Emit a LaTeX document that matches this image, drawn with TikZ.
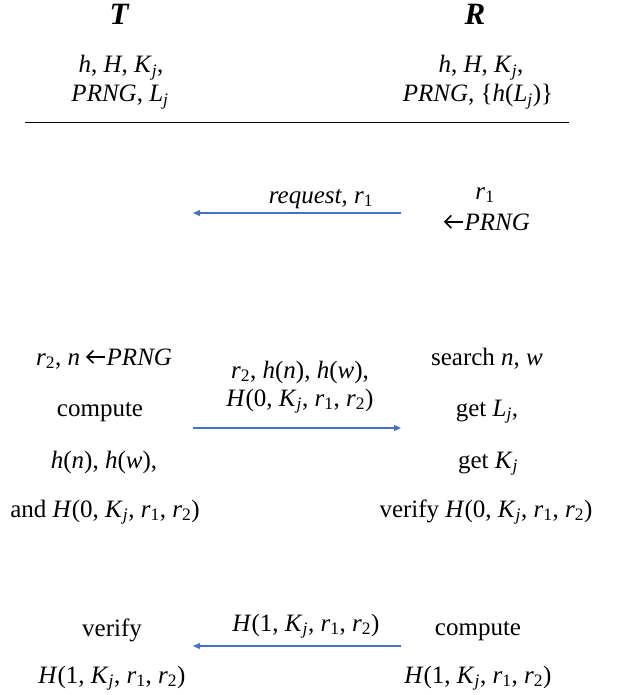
\documentclass[tikz,border=0pt]{standalone}
\usepackage{fontspec}
\setmainfont{Liberation Serif}
\usetikzlibrary{arrows.meta}
\definecolor{arrblue}{HTML}{4472C4}
\newcommand{\sbs}[1]{\textsubscript{#1}}
\newcommand{\Kj}{\textit{K}\sbs{\textit{j}}}
\newcommand{\Lj}{\textit{L}\sbs{\textit{j}}}
\newcommand{\rr}[1]{\textit{r}\sbs{#1}}
\newcommand{\Hfun}[1]{\textit{H}(#1, \Kj, \rr{1}, \rr{2})}
\newcommand{\larr}{\tikz[baseline=0pt]{\draw[line width=1.6pt, line join=miter] (7.5pt,14.5pt) -- (1.2pt,8.2pt) -- (7.5pt,1.9pt); \draw[line width=1.6pt] (1.6pt,8.2pt) -- (19pt,8.2pt);}\hspace{1pt}}
\begin{document}
\begin{tikzpicture}[x=1pt,y=-1pt,
  txt/.style={font=\fontsize{25}{30}\selectfont, anchor=base, inner sep=0pt},
  ttl/.style={font=\fontsize{31}{36}\selectfont\bfseries\itshape, anchor=base, inner sep=0pt},
  msg/.style={draw=arrblue, line width=1.2pt, -{Triangle[length=7pt,width=6pt]}},
  rule/.style={draw=black, line width=1pt}]
\useasboundingbox (0,0) rectangle (616,695);
% headers
\node[ttl] (tT) at (119,25) {T};
\node[ttl] (tR) at (475,25) {R};
\node[txt] (tk1) at (121,73) {\textit{h}, \textit{H}, \Kj,};
\node[txt] (tk2) at (120,102) {\textit{PRNG}, \Lj};
\node[txt] (rk1) at (481,73) {\textit{h}, \textit{H}, \Kj,};
\node[txt] (rk2) at (478,102) {\textit{PRNG}, \{\textit{h}(\Lj)\}};
\coordinate (ls) at (25,123);
\coordinate (le) at (569,123);
\draw[rule] (ls) -- (le);
% step 1
\node[txt] (r1a) at (485,199) {\rr{1}};
\node[txt] (r1b) at (487,230) {\larr\textit{PRNG}};
\coordinate (m1s) at (401,213);
\coordinate (m1e) at (193,213);
\draw[msg] (m1s) -- (m1e);
\node[txt] (m1l) at (321,203) {\textit{request}, \rr{1}};
% step 2
\node[txt] (t2a) at (104,365) {\rr{2}, \textit{n} \larr\textit{PRNG}};
\node[txt] (t2b) at (100,416) {compute};
\node[txt] (t2c) at (104,468) {\textit{h}(\textit{n}), \textit{h}(\textit{w}),};
\node[txt] (t2d) at (105,517) {and \Hfun{0}};
\coordinate (m2s) at (193,428);
\coordinate (m2e) at (401,428);
\draw[msg] (m2s) -- (m2e);
\node[txt] (m2l1) at (300,378) {\rr{2}, \textit{h}(\textit{n}), \textit{h}(\textit{w}),};
\node[txt] (m2l2) at (300,406) {\Hfun{0}};
\node[txt] (r2a) at (487,365) {search \textit{n}, \textit{w}};
\node[txt] (r2b) at (487,416) {get \Lj,};
\node[txt] (r2c) at (488,468) {get \Kj};
\node[txt] (r2d) at (486,517) {verify \Hfun{0}};
% step 3
\node[txt] (r3a) at (478,635) {compute};
\node[txt] (r3b) at (478,683) {\Hfun{1}};
\coordinate (m3s) at (401,646);
\coordinate (m3e) at (193,646);
\draw[msg] (m3s) -- (m3e);
\node[txt] (m3l) at (306,631) {\Hfun{1}};
\node[txt] (t3a) at (112,636) {verify};
\node[txt] (t3b) at (112,683) {\Hfun{1}};
\end{tikzpicture}
\end{document}
